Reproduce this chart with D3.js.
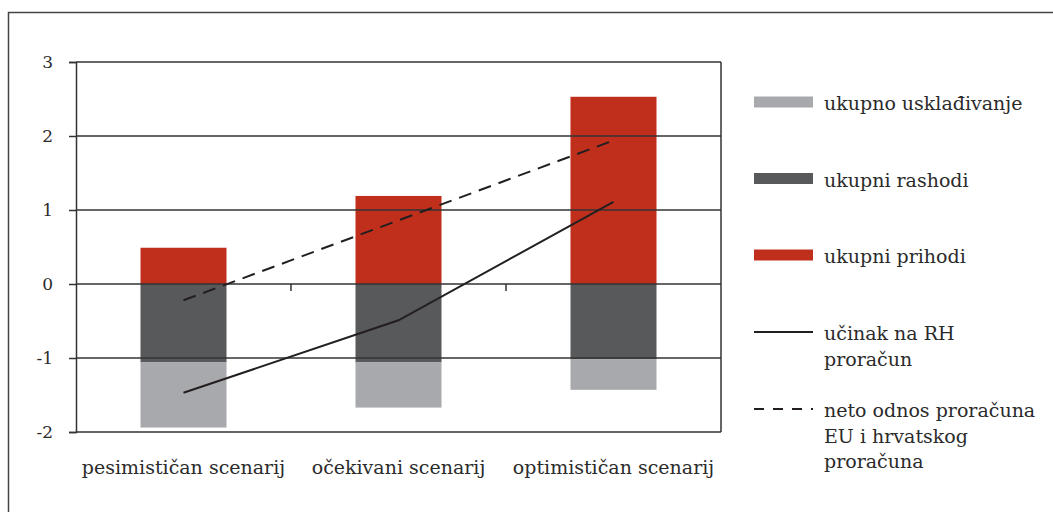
<!DOCTYPE html>
<html>
<head>
<meta charset="utf-8">
<script src="https://cdn.jsdelivr.net/npm/d3@7"></script>
<style>
  body { margin: 0; background: #fff; }
  svg text { font-family: "DejaVu Serif", "Liberation Serif", serif; fill: #2b2b2b; }
</style>
</head>
<body>
<svg></svg>
<script>
var w = 1053, h = 512

// data
var categories = ["pesimističan scenarij", "očekivani scenarij", "optimističan scenarij"]
var uskladjivanje = [-0.88, -0.61, -0.41]
var rashodi = [-1.06, -1.06, -1.02]
var prihodi = [0.49, 1.19, 2.53]
var ucinak = [-1.47, -0.49, 1.11]
var neto = [-0.22, 0.86, 1.94]
var yTicks = [-2, -1, 0, 1, 2, 3]

var legendBars = [
    { key: "uskladjivanje", label: ["ukupno usklađivanje"], color: "#a8a9ad" },
    { key: "rashodi", label: ["ukupni rashodi"], color: "#58595b" },
    { key: "prihodi", label: ["ukupni prihodi"], color: "#c02f1c" }
]
var legendLines = [
    { label: ["učinak na RH", "proračun"], dash: null },
    { label: ["neto odnos proračuna", "EU i hrvatskog", "proračuna"], dash: "10,9" }
]

var rows = categories.map(function(c, i) {
    return { cat: c, uskladjivanje: uskladjivanje[i], rashodi: rashodi[i], prihodi: prihodi[i] }
})

var svg = d3.select("svg")
    .attr("width", w)
    .attr("height", h)

// outer frame, open on right and bottom
svg.append("path")
    .attr("d", "M8.5," + h + "V12.5H" + w)
    .attr("fill", "none")
    .attr("stroke", "#444")
    .attr("stroke-width", 1.5)

var plotL = 76, plotR = 721, plotT = 62, plotB = 432

var x = d3.scaleBand()
    .domain(categories)
    .range([plotL, plotR])
    .paddingInner(0.6)
    .paddingOuter(0.3)

var y = d3.scaleLinear()
    .domain([-2, 3])
    .range([plotB, plotT])

var stack = d3.stack()
    .keys(["rashodi", "uskladjivanje", "prihodi"])
    .offset(d3.stackOffsetDiverging)

var colors = {}
legendBars.forEach(function(d) { colors[d.key] = d.color })

svg.append("g")
    .selectAll("g")
    .data(stack(rows))
    .join("g")
        .attr("fill", function(s) { return colors[s.key] })
    .selectAll("rect")
    .data(function(s) { return s })
    .join("rect")
        .attr("x", function(d) { return x(d.data.cat) })
        .attr("width", x.bandwidth())
        .attr("y", function(d) { return y(d[1]) })
        .attr("height", function(d) { return y(d[0]) - y(d[1]) })

// grid lines
svg.append("g")
    .selectAll("line")
    .data(yTicks)
    .join("line")
        .attr("x1", plotL)
        .attr("x2", plotR)
        .attr("y1", function(d) { return y(d) })
        .attr("y2", function(d) { return y(d) })
        .attr("stroke", "#333")
        .attr("stroke-width", 1.5)

svg.append("line")
    .attr("x1", plotR).attr("x2", plotR)
    .attr("y1", plotT).attr("y2", plotB)
    .attr("stroke", "#333")
    .attr("stroke-width", 1.5)

// y axis
var yAxis = svg.append("g")
    .attr("transform", "translate(" + plotL + ",0)")
    .call(d3.axisLeft(y).tickValues(yTicks).tickSize(7).tickPadding(16))
yAxis.select(".domain").attr("stroke", "#333").attr("stroke-width", 1.5)
yAxis.selectAll(".tick line").attr("stroke", "#333").attr("stroke-width", 1.5)
yAxis.selectAll(".tick text")
    .attr("font-size", 17)
    .attr("font-family", "DejaVu Serif, serif")
    .attr("fill", "#2b2b2b")
    .text(function(d) { return d < 0 ? "-" + Math.abs(d) : d })

// category separators below the zero line
svg.append("g")
    .selectAll("line")
    .data(categories.slice(1))
    .join("line")
        .attr("x1", function(d) { return x(d) - x.step() * x.paddingInner() / 2 })
        .attr("x2", function(d) { return x(d) - x.step() * x.paddingInner() / 2 })
        .attr("y1", y(0))
        .attr("y2", y(0) + 7)
        .attr("stroke", "#333")
        .attr("stroke-width", 1.5)

// category labels
svg.append("g")
    .selectAll("text")
    .data(categories)
    .join("text")
        .attr("x", function(d) { return x(d) + x.bandwidth() / 2 })
        .attr("y", 474)
        .attr("text-anchor", "middle")
        .attr("font-size", 19)
        .text(function(d) { return d })

// lines
var line = d3.line()
    .x(function(d, i) { return x(categories[i]) + x.bandwidth() / 2 })
    .y(function(d) { return y(d) })

svg.append("path")
    .datum(ucinak)
    .attr("d", line)
    .attr("fill", "none")
    .attr("stroke", "#231f20")
    .attr("stroke-width", 2)

svg.append("path")
    .datum(neto)
    .attr("d", line)
    .attr("fill", "none")
    .attr("stroke", "#231f20")
    .attr("stroke-width", 2)
    .attr("stroke-dasharray", "13,8")

// legend
var lx = 754, lw = 59, tx = 824
var legend = svg.append("g")

var barItems = legend.selectAll("g.bar")
    .data(legendBars)
    .join("g")
        .attr("class", "bar")
        .attr("transform", function(d, i) { return "translate(0," + (102 + i * 76.5) + ")" })
barItems.append("rect")
    .attr("x", lx)
    .attr("y", -5.5)
    .attr("width", lw)
    .attr("height", 11)
    .attr("fill", function(d) { return d.color })
barItems.append("text")
    .attr("x", tx)
    .attr("y", 8)
    .attr("font-size", 19)
    .text(function(d) { return d.label[0] })

var lineItems = legend.selectAll("g.ln")
    .data(legendLines)
    .join("g")
        .attr("class", "ln")
        .attr("transform", function(d, i) { return "translate(0," + (332 + i * 77) + ")" })
lineItems.append("line")
    .attr("x1", lx)
    .attr("x2", lx + lw)
    .attr("stroke", "#231f20")
    .attr("stroke-width", 2)
    .attr("stroke-dasharray", function(d) { return d.dash })
lineItems.each(function(d) {
    d3.select(this).selectAll("text")
        .data(d.label)
        .join("text")
            .attr("x", tx)
            .attr("y", function(t, j) { return 8 + j * 25.5 })
            .attr("font-size", 19)
            .text(function(t) { return t })
})
</script>
</body>
</html>
